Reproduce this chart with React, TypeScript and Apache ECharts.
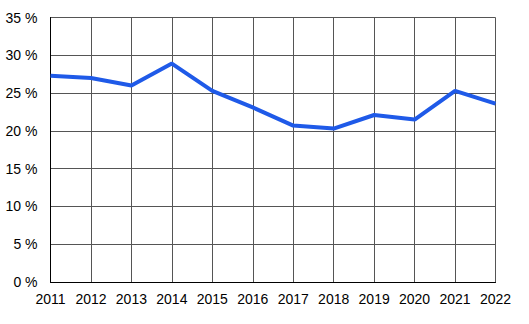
import React, { useEffect, useRef } from "react";
import * as echarts from "echarts";

const years = ["2011", "2012", "2013", "2014", "2015", "2016", "2017", "2018", "2019", "2020", "2021", "2022"];
const values = [27.3, 27.0, 26.0, 28.9, 25.3, 23.1, 20.7, 20.3, 22.1, 21.5, 25.3, 23.6];
const yTicks = { min: 0, max: 35, interval: 5 };

export default function App() {
  const ref = useRef<HTMLDivElement>(null);
  useEffect(() => {
    const chart = echarts.init(ref.current!, null, { renderer: "svg" });
    chart.setOption({
      animation: false,
      backgroundColor: "#ffffff",
      textStyle: { fontFamily: "Liberation Sans, Arial, sans-serif" },
      grid: { left: 50.5, right: 33.5, top: 17.5, bottom: 42, containLabel: false },
      xAxis: {
        type: "category",
        data: years,
        boundaryGap: false,
        axisLine: { show: true, lineStyle: { color: "#000", width: 1 } },
        axisTick: { show: false, interval: 0 },
        axisLabel: { interval: 0, hideOverlap: false, color: "#000", fontSize: 14, margin: 10, fontFamily: "Liberation Sans, Arial, sans-serif" },
        splitLine: { show: true, interval: 0, lineStyle: { color: "#555", width: 1 } },
      },
      yAxis: {
        type: "value",
        min: yTicks.min,
        max: yTicks.max,
        interval: yTicks.interval,
        axisLine: { show: true, lineStyle: { color: "#000", width: 1 } },
        axisTick: { show: false },
        axisLabel: { color: "#000", fontSize: 14, margin: 13, formatter: "{value} %", fontFamily: "Liberation Sans, Arial, sans-serif" },
        splitLine: { show: true, lineStyle: { color: "#555", width: 1 } },
      },
      series: [
        {
          type: "line",
          data: values,
          symbol: "none",
          lineStyle: { color: "#1f5ae8", width: 4 },
        },
      ],
    });
    return () => chart.dispose();
  }, []);
  return <div ref={ref} style={{ position: "fixed", left: 0, top: 0, width: 529, height: 324 }} />;
}
